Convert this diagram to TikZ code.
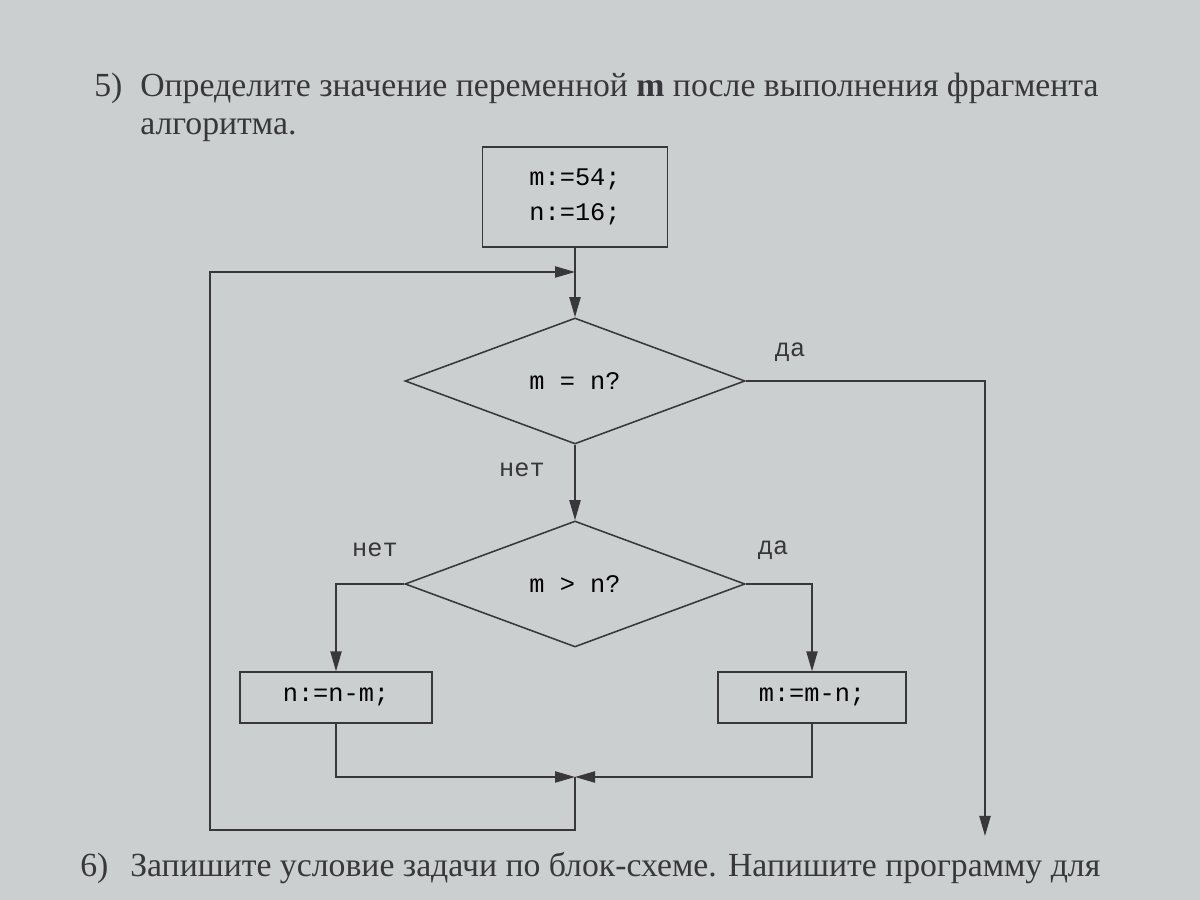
\documentclass[tikz,border=0pt]{standalone}
\usepackage{fontspec}
\setmainfont{Liberation Serif}
\setmonofont{Liberation Mono}
\usetikzlibrary{shapes.geometric, arrows.meta, positioning}

\definecolor{papier}{RGB}{203,207,207}
\definecolor{encre}{RGB}{55,55,60}

\tikzset{
  trait/.style={draw=encre, line width=1.1pt},
  bloc/.style={trait, rectangle, font=\ttfamily\fontsize{18}{25}\selectfont, align=center},
  petitbloc/.style={bloc, minimum height=1.275cm, text height=1.6ex, text depth=.4ex},
  test/.style={trait, diamond, aspect=2.72, inner sep=0pt, minimum width=8.5cm, minimum height=3.15cm, font=\ttfamily\fontsize{18}{22}\selectfont},
  fleche/.style={trait, -{Triangle[length=5mm,width=2.8mm]}},
  etiq/.style={font=\ttfamily\fontsize{18}{22}\selectfont, text=encre},
  enonce/.style={font=\fontsize{24}{28}\selectfont, text=encre, anchor=base west, inner sep=0pt}
}

\begin{document}
\begin{tikzpicture}
        % Fond (feuille)
        \fill[papier] (0,0) rectangle (30,22.5);
        \useasboundingbox (0,0) rectangle (30,22.5);

        % Enoncé
        \node[enonce] (num5) at (2.35,20.075) {5)};
        \node[enonce] (ligne1) at (3.5,20.075) {Определите значение переменной \textbf{m} после выполнения фрагмента};
        \node[enonce] (ligne2) at (3.5,19.125) {алгоритма.};
        \node[enonce] (num6) at (2.0,0.575) {6)};
        \node[enonce] (ligne3) at (3.25,0.575) {Запишите условие задачи по блок-схеме. Напишите программу для};

        % Blocs
        \node[bloc, minimum width=4.625cm, minimum height=2.5cm] (debut) at (14.375,17.575) {m:=54;\\n:=16;};
        \node[test] (egal) at (14.375,12.975) {m = n?};
        \node[test] (plus) at (14.375,7.9) {m > n?};
        \node[petitbloc, minimum width=4.8cm] (moinsn) at (8.4,5.06) {n:=n-m;};
        \node[petitbloc, minimum width=4.7cm] (moinsm) at (20.3,5.06) {m:=m-n;};

        % Points de jonction
        \coordinate (entree) at (14.375,15.7);
        \coordinate (fusion) at (14.375,3.075);
        \coordinate (retour) at (5.25,1.75);
        \coordinate (fin) at (24.625,1.6);

        % Liaisons
        \draw[trait] (debut.south) -- (entree);
        \draw[fleche] (entree) -- (egal.north);
        \draw[fleche] (egal.south) -- (plus.north);
        \draw[fleche] (egal.east) -| (fin);
        \draw[fleche] (plus.west) -| (moinsn.north);
        \draw[fleche] (plus.east) -| (moinsm.north);
        \draw[fleche] (moinsn.south) |- (fusion);
        \draw[fleche] (moinsm.south) |- (fusion);
        \draw[fleche] (fusion) |- (retour) |- (entree);

        % Etiquettes oui / non
        \node[etiq] (oui1) at (19.75,13.7) {да};
        \node[etiq] (non1) at (13.05,10.75) {нет};
        \node[etiq] (non2) at (9.375,8.75) {нет};
        \node[etiq] (oui2) at (19.325,8.75) {да};

\end{tikzpicture}
\end{document}
